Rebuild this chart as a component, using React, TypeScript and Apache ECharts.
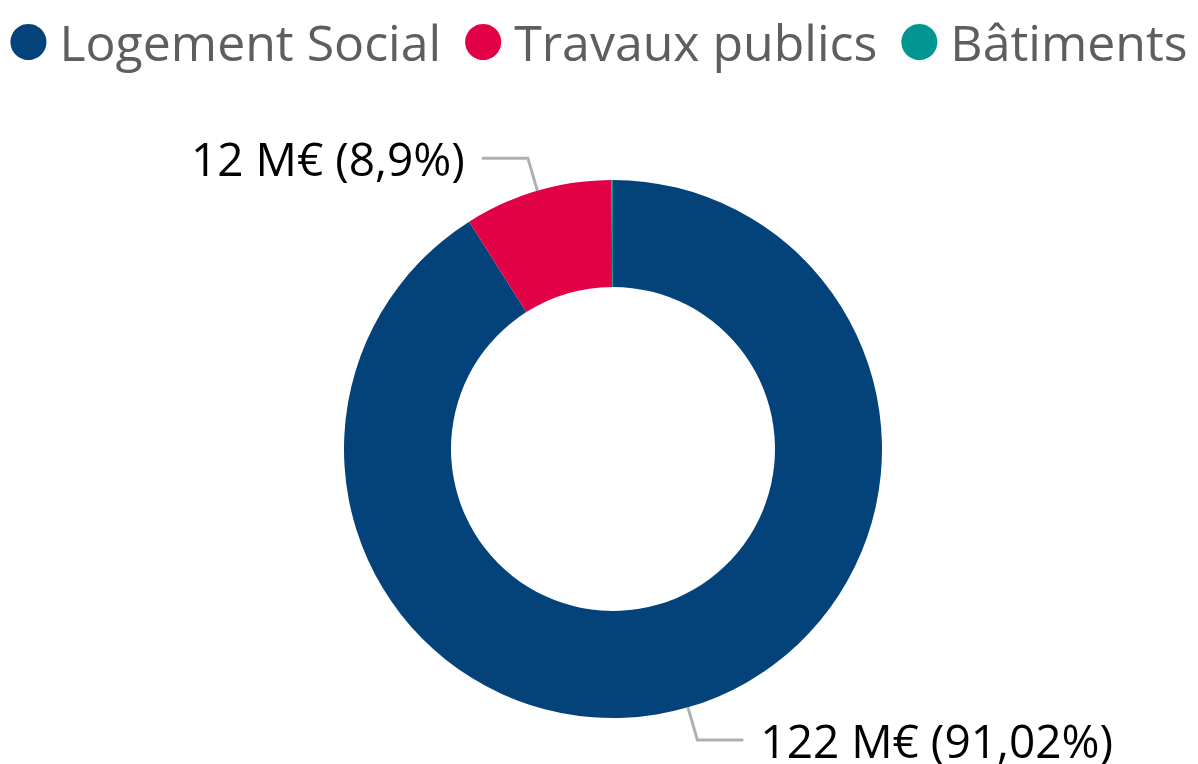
import React, { useEffect, useRef } from "react";
import * as echarts from "echarts";

const categories = ["Logement Social", "Travaux publics", "Bâtiments"];
const values = [122.0, 11.93, 0.11]; // M€
const colors = ["#03437A", "#E20046", "#019690"];
const showLabel = [true, true, false];

const total = values.reduce((a, b) => a + b, 0);

function fmtPct(v: number): string {
  const p = (v / total) * 100;
  let s = p.toFixed(2);
  s = s.replace(/0+$/, "").replace(/\.$/, "");
  return s.replace(".", ",");
}

export default function App() {
  const ref = useRef<HTMLDivElement>(null);
  useEffect(() => {
    if (!ref.current) return;
    const chart = echarts.init(ref.current, null, { renderer: "svg" });
    chart.setOption({
      animation: false,
      color: colors,
      legend: {
        top: 12,
        left: "center",
        icon: "circle",
        itemWidth: 36,
        itemHeight: 36,
        itemGap: 24,
        textStyle: {
          fontFamily: "Open Sans",
          fontSize: 50,
          color: "#605E5C",
          padding: [0, 0, 0, 8],
        },
        data: categories,
      },
      series: [
        {
          type: "pie",
          center: [613, 449],
          radius: [162, 269],
          startAngle: 90,
          clockwise: true,
          avoidLabelOverlap: false,
          label: {
            show: true,
            formatter: (p: any) => `${Math.round(p.value)} M€ (${fmtPct(p.value)}%)`,
            fontFamily: "Open Sans",
            fontSize: 46,
            color: "#000000",
            distanceToLabelLine: 17,
          },
          labelLine: {
            show: true,
            length: 34,
            length2: 46,
            lineStyle: { color: "#B0B0B0", width: 3 },
          },
          data: categories.map((c, i) => ({
            name: c,
            value: values[i],
            label: { show: showLabel[i] },
            labelLine: { show: showLabel[i] },
          })),
        },
      ],
    });
    return () => chart.dispose();
  }, []);
  return (
    <div
      ref={ref}
      style={{ position: "fixed", left: 0, top: 0, width: 1198, height: 764 }}
    />
  );
}
